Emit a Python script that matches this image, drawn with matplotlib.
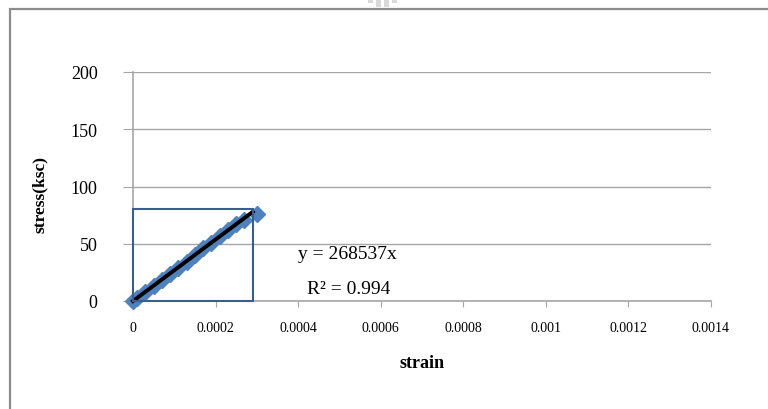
import matplotlib
matplotlib.use("Agg")
import matplotlib.pyplot as plt
from matplotlib.patches import Rectangle
import numpy as np

plt.rcParams['font.family'] = ['Liberation Serif', 'DejaVu Serif']

# measured points (strain, stress in ksc)
strain = [0, 0.00001, 0.00003, 0.00005, 0.00007, 0.00009, 0.00011, 0.00013,
          0.00015, 0.00017, 0.00019, 0.00021, 0.00023, 0.00025, 0.00027, 0.0003]
stress = [0, 3, 8, 13, 18, 24, 29, 34, 40, 46, 51, 57, 62, 67, 71, 76]
slope = 268537
r2 = 0.994
x_ticks = [0, 0.0002, 0.0004, 0.0006, 0.0008, 0.001, 0.0012, 0.0014]
x_labels = ['0', '0.0002', '0.0004', '0.0006', '0.0008', '0.001', '0.0012', '0.0014']
y_ticks = [0, 50, 100, 150, 200]

fig = plt.figure(figsize=(7.68, 4.10), dpi=100)
ax = fig.add_axes([133/768, 1-302/410, (711-133)/768, (302-73)/410])

# outer chart frame
fig.patches.append(Rectangle((10/768, -0.2), 1.2, 1.2 - 9.5/410,
                             transform=fig.transFigure, fill=False,
                             edgecolor='#8c8c8c', linewidth=1.6))
# faint logo fragment above the frame
for bx, bh in [(368, 4), (376, 8), (384, 8), (392, 4)]:
    fig.patches.append(Rectangle((bx/768, 1-bh/410), 5/768, bh/410,
                                 transform=fig.transFigure, color='#d9d9d9',
                                 linewidth=0))

ax.plot(strain, stress, color='#4f81bd', linestyle='--', dashes=(3.5, 0.9),
        linewidth=6, marker='D', markersize=8, clip_on=False, zorder=3)
fit_x = np.array([0, 0.00029])
ax.plot(fit_x, slope * fit_x, color='black', linewidth=2.8, zorder=4,
        clip_on=False)

ax.add_patch(Rectangle((0, 0), 0.00029, 80, fill=False, edgecolor='#3b5d8c',
                       linewidth=1.5, zorder=5, clip_on=False))

ax.set_xlim(0, 0.0014)
ax.set_ylim(0, 200)
ax.set_xticks(x_ticks)
ax.set_xticklabels(x_labels, fontsize=10)
ax.set_yticks(y_ticks)
ax.set_yticklabels([str(v) for v in y_ticks], fontsize=13)
ax.yaxis.grid(True, color='#a6a6a6', linewidth=1)
ax.set_axisbelow(True)
for s in ['top', 'right']:
    ax.spines[s].set_visible(False)
for s in ['left', 'bottom']:
    ax.spines[s].set_color('#a6a6a6')
    ax.spines[s].set_linewidth(1.2)
ax.tick_params(axis='x', direction='out', length=4.5, color='#a6a6a6', pad=10)
ax.tick_params(axis='y', direction='out', length=7.5, color='#a6a6a6', pad=18)

ax.set_xlabel('strain', fontsize=13, fontweight='bold', labelpad=14)
ax.set_ylabel('stress(ksc)', fontsize=12.5, fontweight='bold')
ax.yaxis.set_label_coords(-(133-48)/578, 0.47)

ax.text(298, 410-255, 'y = %dx' % slope, transform=None, fontsize=14,
        va='center', ha='left')
ax.text(307, 410-290, 'R² = %s' % r2, transform=None, fontsize=14,
        va='center', ha='left')

fig.savefig('out.png', dpi=100)
